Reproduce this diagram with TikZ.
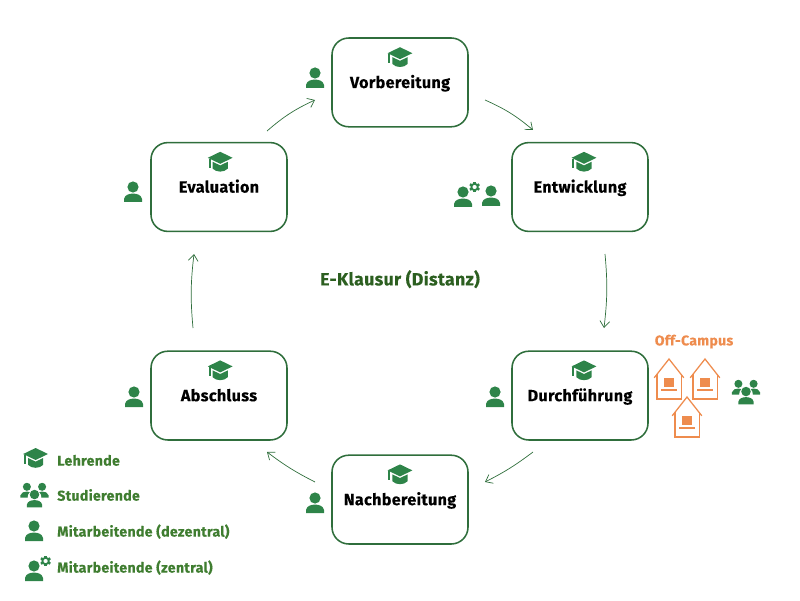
\documentclass[tikz,border=0pt]{standalone}
\usepackage{fontspec}
\setmainfont[LetterSpace=2,BoldFeatures={FakeBold=0.3}]{Fira Sans}
\usetikzlibrary{arrows.meta}

\definecolor{CycleRule}{HTML}{2F6E3C}
\definecolor{CycleIcon}{HTML}{2E8449}
\definecolor{CycleTitle}{HTML}{2C5F20}
\definecolor{CycleLegend}{HTML}{3F7D30}
\definecolor{CycleCampus}{HTML}{EE8C4E}

\tikzset{
  stagebox/.style={draw=CycleRule,line width=1.1pt,rounded corners=0.42cm,minimum width=3.4cm,
    minimum height=2.22cm,inner sep=0pt,text height=0.4cm,text depth=0.12cm,
    font=\bfseries\fontsize{11.5}{13}\selectfont,text=black},
  legendtext/.style={anchor=west,inner sep=0pt,text=CycleLegend,font=\bfseries\fontsize{10.1}{12}\selectfont},
  flow/.style={CycleRule,line width=0.5pt,-{Straight Barb[length=4.5pt,width=7pt,line width=0.5pt]}},
  hat/.pic={
    \fill[CycleIcon] (-0.31,0.1) -- (0,0.25) -- (0.31,0.1) -- (0,-0.05) -- cycle;
    \fill[CycleIcon] (-0.19,0.0) -- (0,-0.09) -- (0.19,0.0) -- (0.19,-0.17)
      .. controls (0.1,-0.27) and (-0.1,-0.27) .. (-0.19,-0.17) -- cycle;
    \fill[CycleIcon] (-0.29,0.08) rectangle (-0.24,-0.15);
  },
  person/.pic={
    \fill[CycleIcon] (0,0.125) circle[radius=0.14];
    \fill[CycleIcon] (-0.225,-0.25) -- (-0.225,-0.17) .. controls (-0.2,-0.07) and (-0.1,-0.04) .. (0,-0.04)
      .. controls (0.1,-0.04) and (0.2,-0.07) .. (0.225,-0.17) -- (0.225,-0.25) -- cycle;
  },
  gearperson/.pic={
    \pic {person};
    \draw[CycleIcon,line width=1.3pt] (0.29,0.25) circle[radius=0.08];
    \foreach \a in {0,60,...,300}
      \fill[CycleIcon,rotate around={\a:(0.29,0.25)}] (0.26,0.33) rectangle (0.32,0.385);
  },
  group/.pic={
    \pic[scale=0.72] at (-0.19,0.14) {person};
    \pic[scale=0.72] at (0.19,0.14) {person};
    \fill[white] (0,-0.03) circle[radius=0.17];
    \fill[white] (-0.26,-0.3) rectangle (0.26,-0.18);
    \pic[scale=0.85] at (0,-0.07) {person};
  },
  house/.pic={
    \draw[CycleCampus,line width=0.9pt] (-0.37,0.03) -- (0,0.5) -- (0.37,0.03);
    \draw[CycleCampus,line width=0.9pt] (-0.3,0.13) -- (-0.3,-0.5) -- (0.31,-0.5) -- (0.31,0.13);
    \fill[CycleCampus] (-0.13,0.02) rectangle (0.13,-0.2);
    \draw[CycleCampus,line width=1pt] (-0.2,-0.27) -- (0.2,-0.27);
  }
}

\begin{document}
\begin{tikzpicture}[x=1cm,y=1cm]
  \useasboundingbox (0,0) rectangle (20,15);

  \node[stagebox] (vorbereitung) at (10,12.94) {Vorbereitung};
  \node[stagebox] (entwicklung) at (14.5,10.325) {Entwicklung};
  \node[stagebox] (durchfuehrung) at (14.5,5.11) {Durchführung};
  \node[stagebox] (nachbereitung) at (10,2.51) {Nachbereitung};
  \node[stagebox] (abschluss) at (5.475,5.11) {Abschluss};
  \node[stagebox] (evaluation) at (5.475,10.325) {Evaluation};

  \foreach \stage/\dx in {vorbereitung/0,entwicklung/0.1,durchfuehrung/0.1,nachbereitung/0,abschluss/0.03,evaluation/0.03}
    \pic at ([xshift=\dx cm,yshift=0.63cm]\stage.center) {hat};

  \draw[flow] ([shift={(2.125,-0.44)}]vorbereitung.center) to[bend left=8] ([shift={(-1.175,1.425)}]entwicklung.center);
  \draw[flow] ([shift={(0.625,-1.675)}]entwicklung.center) to[bend left=6] ([shift={(0.6,1.69)}]durchfuehrung.center);
  \draw[flow] ([shift={(-1.175,-1.41)}]durchfuehrung.center) to[bend left=5] ([shift={(2.125,0.44)}]nachbereitung.center);
  \draw[flow] ([shift={(-2.125,0.44)}]nachbereitung.center) to[bend left=5] ([shift={(1.2,-1.41)}]abschluss.center);
  \draw[flow] ([shift={(-0.65,1.69)}]abschluss.center) to[bend left=6] ([shift={(-0.625,-1.675)}]evaluation.center);
  \draw[flow] ([shift={(1.2,1.4)}]evaluation.center) to[bend left=8] ([shift={(-2.125,-0.44)}]vorbereitung.center);

  \node[text=CycleTitle,font=\bfseries\fontsize{12.6}{15}\selectfont] (title) at (10,8.02) {E-Klausur (Distanz)};

  \foreach \x/\y in {7.875/13.05,3.325/10.2,12.275/10.1,12.375/5.075,3.35/5.075,7.875/2.425,0.85/1.725}
    \pic at (\x,\y) {person};
  \foreach \x/\y in {11.575/10.075,0.85/0.725}
    \pic at (\x,\y) {gearperson};
  \pic at (18.65,5.175) {group};

  \node[text=CycleCampus,font=\bfseries\fontsize{10}{12}\selectfont] (campus) at (17.35,6.46) {Off-Campus};
  \foreach \x/\y in {16.725/5.525,17.625/5.525,17.175/4.575}
    \pic at (\x,\y) {house};

  \pic at (0.89,3.55) {hat};
  \pic at (0.8625,2.6) {group};
  \node[legendtext] (lehrende) at (1.425,3.49) {Lehrende};
  \node[legendtext] (studierende) at (1.425,2.625) {Studierende};
  \node[legendtext] (dezentral) at (1.425,1.71) {Mitarbeitende (dezentral)};
  \node[legendtext] (zentral) at (1.425,0.81) {Mitarbeitende (zentral)};
\end{tikzpicture}
\end{document}
